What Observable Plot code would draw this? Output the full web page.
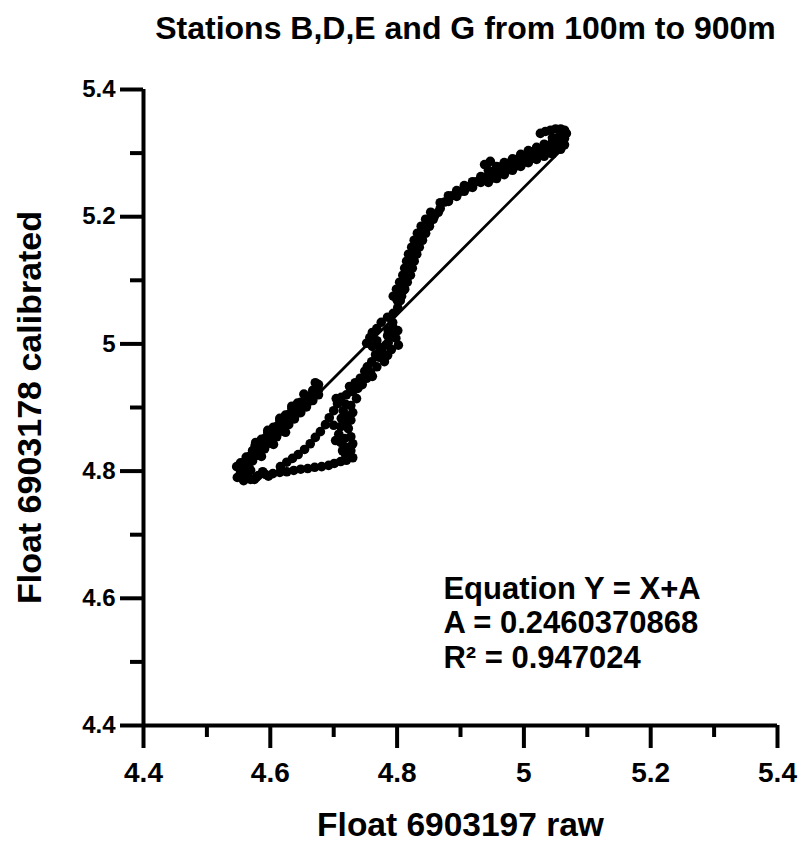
<!DOCTYPE html>
<html><head><meta charset="utf-8">
<script src="https://cdn.jsdelivr.net/npm/d3@7"></script>
<script src="https://cdn.jsdelivr.net/npm/@observablehq/plot@0.6"></script>
<style>body{margin:0;background:#fff;} svg{display:block}</style>
</head><body><div id="chart"></div>
<script>
const title = "Stations B,D,E and G from 100m to 900m";
const xLabel = "Float 6903197 raw";
const yLabel = "Float 6903178 calibrated";
const majorTicks = [4.4, 4.6, 4.8, 5, 5.2, 5.4];
const minorTicks = [4.5, 4.7, 4.9, 5.1, 5.3];
const fitA = 0.2460370868;
const fitR2 = "0.947024";
const fitX = [4.553, 5.066];
const annotation = ["Equation Y = X+A", "A = " + fitA, "R\u00B2 = " + fitR2];

// raw values (x) of float 6903197
const rawX = [
  // hook at top
  5.026,5.034,5.042,5.050,5.058,5.064,5.067,5.064,5.055,5.045,
  // dense upper band
  5.058,5.058,5.058, 5.045,5.045,5.045, 5.032,5.032,5.032, 5.020,5.020,5.020,
  5.007,5.007,5.007, 4.995,4.995,4.995, 4.982,4.982,4.982, 4.969,4.969,4.969,
  4.957,4.957,4.957, 4.944,4.944,4.944,
  5.064,5.064, 5.051,5.051, 5.039,5.039, 5.026,5.026, 5.014,5.014,
  5.001,5.001, 4.988,4.988, 4.976,4.976, 4.963,4.963, 4.951,4.951,
  5.052,5.039,5.026,5.013,5.001,4.988,4.976,4.963,4.950,4.947,4.938,
  4.932,4.932, 4.919,4.919, 4.906,4.906, 4.894,4.894, 4.881,4.881, 4.868,4.868,
  4.938,4.925,4.913,4.900,4.887,4.875,
  // steep part of the curve
  4.853,4.865, 4.845,4.857, 4.838,4.851, 4.832,4.845, 4.827,4.840, 4.823,4.835,
  4.818,4.831, 4.815,4.827, 4.812,4.824, 4.809,4.821, 4.804,4.816, 4.799,4.812,
  4.794,4.807,
  4.859,4.851,4.844,4.838,4.833,4.829,4.824,4.821,4.818,4.815,4.810,4.805,4.800,
  // middle section
  4.810,4.805,4.801,4.794,4.785,4.775,4.768,4.761,4.757,4.752,4.761,
  4.801,4.798,4.802,4.791,4.785,4.780,4.772,4.774,4.766,4.760,4.753,4.749,
  4.752,4.745,4.738,4.730,4.720,4.712,
  4.785,4.793,4.772,4.782,
  4.742,4.734,4.725,4.758,4.786,4.793,4.768,
  4.793,4.786,4.777,4.768,4.761,4.736,4.704,4.700,4.703,
  // right strand and bottom
  4.727,4.730,4.727,4.723,4.727,4.730,4.727,4.730,4.720,4.711,4.701,4.692,
  4.681,4.670,4.659,4.648,4.637,4.626,4.615,4.604,4.592,4.581,
  // middle diagonal strand
  4.706,4.700,4.693,4.687,4.679,4.671,4.663,4.654,4.644,4.635,4.626,4.616,
  4.715,4.712,4.711,4.708,4.711,4.714,
  4.719,4.720,4.719,4.717,4.720,4.719,
  // dense lower blob
  4.553,4.553,4.553, 4.562,4.562,4.562, 4.572,4.572,4.572, 4.581,4.581,4.581,
  4.591,4.591,4.591, 4.600,4.600,4.600, 4.610,4.610,4.610, 4.619,4.619,4.619,
  4.629,4.629,4.629, 4.638,4.638,4.638, 4.648,4.648,4.648, 4.657,4.657,4.657,
  4.667,4.667,4.667, 4.676,4.676,4.676,
  4.558,4.558, 4.567,4.567, 4.576,4.576,4.576, 4.586,4.586,4.586,
  4.596,4.596,4.596, 4.605,4.605,4.605, 4.615,4.615,4.615, 4.624,4.624,4.624,
  4.634,4.634,4.634, 4.643,4.643,4.643, 4.653,4.653, 4.662,4.662, 4.672,4.672,
  4.577,4.596,4.615,4.634,4.653,4.671,
  4.557,4.567,4.586,4.605,4.624,
  4.548,4.558,4.569,4.578,4.559,4.569,
  4.564,4.588,4.597,4.547,4.575
];

// calibrated values (y) of float 6903178
const calY = [
  5.331,5.334,5.336,5.338,5.338,5.336,5.331,5.327,5.325,5.324,
  5.325,5.315,5.306, 5.318,5.309,5.299, 5.314,5.304,5.295, 5.309,5.299,5.290,
  5.304,5.295,5.285, 5.298,5.288,5.279, 5.291,5.282,5.273, 5.285,5.276,5.266,
  5.279,5.269,5.260, 5.273,5.263,5.254,
  5.323,5.313, 5.317,5.307, 5.311,5.301, 5.307,5.297, 5.302,5.292,
  5.296,5.286, 5.290,5.280, 5.284,5.274, 5.278,5.268, 5.271,5.261,
  5.312,5.306,5.302,5.297,5.291,5.285,5.279,5.272,5.266,5.287,5.282,
  5.263,5.254, 5.255,5.246, 5.249,5.240, 5.241,5.232, 5.233,5.224, 5.222,5.213,
  5.262,5.255,5.247,5.240,5.233,5.223,
  5.207,5.207, 5.196,5.196, 5.185,5.185, 5.174,5.174, 5.163,5.163, 5.152,5.152,
  5.141,5.141, 5.130,5.130, 5.119,5.119, 5.108,5.108, 5.097,5.097, 5.086,5.086,
  5.075,5.075,
  5.201,5.190,5.179,5.168,5.157,5.146,5.135,5.124,5.113,5.102,5.091,5.080,5.069,
  5.084,5.068,5.057,5.048,5.042,5.034,5.024,5.018,5.010,5.001,4.996,
  5.021,5.009,4.998,4.991,4.982,4.972,4.979,4.994,4.983,4.972,4.964,4.957,
  4.946,4.936,4.930,4.925,4.920,4.916,
  5.013,5.027,4.986,4.998,
  4.946,4.939,4.933,4.955,5.002,5.013,5.005,
  5.034,5.021,4.986,4.964,4.949,4.914,4.914,4.872,4.848,
  4.903,4.892,4.880,4.867,4.854,4.843,4.832,4.821,4.817,4.815,4.812,4.809,
  4.807,4.806,4.804,4.803,4.801,4.799,4.798,4.796,4.795,4.793,
  4.906,4.895,4.884,4.873,4.862,4.853,4.843,4.834,4.826,4.820,4.814,4.807,
  4.895,4.883,4.870,4.858,4.845,4.832,
  4.905,4.887,4.873,4.851,4.837,4.825,
  4.813,4.805,4.797, 4.822,4.814,4.806, 4.832,4.824,4.816, 4.841,4.833,4.825,
  4.851,4.843,4.835, 4.860,4.852,4.844, 4.870,4.862,4.854, 4.879,4.871,4.863,
  4.889,4.881,4.873, 4.898,4.890,4.882, 4.908,4.900,4.892, 4.917,4.909,4.901,
  4.927,4.919,4.911, 4.936,4.928,4.920,
  4.814,4.806, 4.823,4.815, 4.832,4.824,4.840, 4.842,4.834,4.850,
  4.852,4.844,4.860, 4.861,4.853,4.869, 4.871,4.863,4.879, 4.880,4.872,4.888,
  4.890,4.882,4.898, 4.899,4.891,4.907, 4.909,4.901, 4.918,4.910, 4.928,4.920,
  4.845,4.864,4.883,4.902,4.921,4.939,
  4.794,4.804,4.823,4.842,4.861,
  4.790,4.785,4.787,4.790,4.795,4.801,
  4.792,4.799,4.792,4.807,4.787
];

const points = rawX.map((x, i) => ({x, y: calY[i]}));
const fit = fitX.map(x => ({x, y: x + fitA}));

const FONT = "Liberation Sans, Arial, Helvetica, sans-serif";

const chart = Plot.plot({
  width: 803,
  height: 848,
  marginLeft: 143,
  marginRight: 26,
  marginTop: 89,
  marginBottom: 123,
  style: {fontFamily: FONT, fontWeight: "bold", color: "black", background: "white"},
  x: {domain: [4.4, 5.4]},
  y: {domain: [4.4, 5.4]},
  marks: [
    Plot.axisX({ticks: majorTicks, tickSize: 23, tickPadding: 14, strokeWidth: 4, fontSize: 28, fontWeight: "bold", tickFormat: d => `${d}`, label: null}),
    Plot.axisX({ticks: minorTicks, tickSize: 12, strokeWidth: 4, tickFormat: () => "", label: null}),
    Plot.axisY({ticks: majorTicks, tickSize: 23, tickPadding: 5, strokeWidth: 4, fontSize: 24, fontWeight: "bold", tickFormat: d => `${d}`, label: null}),
    Plot.axisY({ticks: minorTicks, tickSize: 13, strokeWidth: 4, tickFormat: () => "", label: null}),
    Plot.ruleX([4.4], {strokeWidth: 4}),
    Plot.ruleY([4.4], {strokeWidth: 4}),
    Plot.dot(points, {x: "x", y: "y", r: 4.8, fill: "black", stroke: null}),
    Plot.line(fit, {x: "x", y: "y", stroke: "black", strokeWidth: 2.8}),
    Plot.text([annotation.join("\n")], {x: 4.873, y: 4.562, textAnchor: "start", lineAnchor: "middle", lineHeight: 1.11, fontSize: 31, fontWeight: "bold"}),
    Plot.text([title], {frameAnchor: "top", dy: -61, dx: 5, textAnchor: "middle", lineAnchor: "middle", fontSize: 32, fontWeight: "bold"}),
    Plot.text([xLabel], {frameAnchor: "bottom", dy: 100, textAnchor: "middle", lineAnchor: "middle", fontSize: 33.5, fontWeight: "bold"}),
    Plot.text([yLabel], {frameAnchor: "left", dx: -113, rotate: -90, textAnchor: "middle", lineAnchor: "middle", fontSize: 34, fontWeight: "bold"})
  ]
});

document.getElementById("chart").appendChild(chart);
</script>
</body></html>
